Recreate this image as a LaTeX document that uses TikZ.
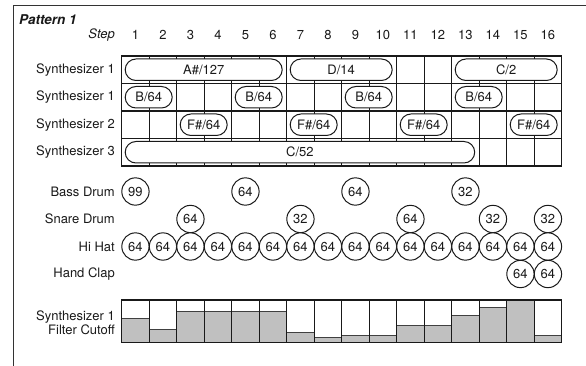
\documentclass[tikz,border=0pt]{standalone}
\usepackage{fontspec}
\setmainfont{TeX Gyre Heros}
\usetikzlibrary{shapes.misc}
\definecolor{ink}{RGB}{25,25,25}
\definecolor{barfill}{RGB}{192,192,192}
\begin{document}
\begin{tikzpicture}[x=1pt,y=-1pt,
  every node/.style={font=\fontsize{13}{14.5}\selectfont, text=ink},
  lbl/.style={anchor=east, inner sep=0pt},
  stepnum/.style={inner sep=0pt},
  gridline/.style={draw=ink, line width=1.1pt},
  notebar/.style={rounded rectangle, draw=ink, fill=white, line width=1pt, minimum height=21.5pt, inner sep=0pt},
  drum/.style={circle, draw=ink, fill=white, line width=1pt, minimum size=27.3pt, inner sep=0pt},
  frameline/.style={draw=black!80, line width=0.9pt}
]
\useasboundingbox (0,0) rectangle (586,366);
\def\GX{121.7}\def\GW{27.5}\def\GY{56}
\newcommand{\colc}[1]{\GX+(#1-0.5)*\GW}
% frame
\coordinate (fbl) at (13.3,370);
\coordinate (ftl) at (13.3,5.7);
\coordinate (ftr) at (590,5.7);
\draw[frameline] (fbl) -- (ftl) -- (ftr);
% titles
\node[anchor=west, inner sep=0pt, font=\fontsize{13.5}{15}\selectfont\bfseries\itshape] (title) at (19,20) {Pattern 1};
\node[lbl, font=\fontsize{13}{14.5}\selectfont\itshape] (steplbl) at (115,35) {Step};
\foreach \i in {1,...,16} {
  \node[stepnum] (s\i) at ({\colc{\i}},35) {\i};
}
% row labels
\node[lbl] (l1) at (115,69.75) {Synthesizer 1};
\node[lbl] (l2) at (115,97.25) {Synthesizer 1};
\node[lbl] (l3) at (115,124.75) {Synthesizer 2};
\node[lbl] (l4) at (115,152.25) {Synthesizer 3};
% grid
\draw[gridline] (\GX,\GY) rectangle ({\GX+16*\GW},{\GY+4*\GW});
\foreach \r in {1,2,3} { \draw[gridline] (\GX,{\GY+\r*\GW}) -- ({\GX+16*\GW},{\GY+\r*\GW}); }
\foreach \c in {1,...,15} { \draw[gridline] ({\GX+\c*\GW},\GY) -- ({\GX+\c*\GW},{\GY+4*\GW}); }
% note bars
\newcommand{\notebarat}[5]{%
  \node[notebar, minimum width={(#4-#3+1)*\GW-8}] (#1) at ({\GX+(#3-1)*\GW+(#4-#3+1)*\GW/2-0.5},{\GY+(#2-0.5)*\GW}) {#5};}
\notebarat{ra}{1}{1}{6}{A\#/127}
\notebarat{rb}{1}{7}{10}{D/14}
\notebarat{rc}{1}{13}{16}{C/2}
\notebarat{ba}{2}{1}{2}{B/64}
\notebarat{bb}{2}{5}{6}{B/64}
\notebarat{bc}{2}{9}{10}{B/64}
\notebarat{bd}{2}{13}{14}{B/64}
\notebarat{fa}{3}{3}{4}{F\#/64}
\notebarat{fb}{3}{7}{8}{F\#/64}
\notebarat{fc}{3}{11}{12}{F\#/64}
\notebarat{fd}{3}{15}{16}{F\#/64}
\notebarat{ca}{4}{1}{13}{C/52}
% drum labels
\node[lbl] (lbd) at (115,191.5) {Bass Drum};
\node[lbl] (lsd) at (115,219) {Snare Drum};
\node[lbl] (lhh) at (115,246.5) {Hi Hat};
\node[lbl] (lhc) at (115,274) {Hand Clap};
% drums
\foreach \i/\v in {1/99,5/64,9/64,13/32} { \node[drum] (bd\i) at ({\colc{\i}},191.5) {\v}; }
\foreach \i/\v in {3/64,7/32,11/64,14/32,16/32} { \node[drum] (sd\i) at ({\colc{\i}},219) {\v}; }
\foreach \i in {1,...,16} { \node[drum] (hh\i) at ({\colc{\i}},246.5) {64}; }
\foreach \i in {15,16} { \node[drum] (hc\i) at ({\colc{\i}},274) {64}; }
% filter cutoff
\node[lbl, align=right, font=\fontsize{13}{14.5}\selectfont] (lfc) at (115,323) {Synthesizer 1\\Filter Cutoff};
\def\FT{300}\def\FB{342.7}
\foreach \i/\h in {1/24.4,2/13.4,3/31,4/31,5/31,6/31,7/10,8/5,9/7.7,10/7.7,11/17.4,12/17.4,13/27.4,14/35,15/42.7,16/7.7} {
  \fill[barfill] ({\GX+(\i-1)*\GW},{\FB-\h}) rectangle ({\GX+\i*\GW},\FB);
  \draw[draw=black!75, line width=0.9pt] ({\GX+(\i-1)*\GW},{\FB-\h}) -- ({\GX+\i*\GW},{\FB-\h});
}
\foreach \i in {1,...,16} {
  \draw[gridline, line width=1.3pt] ({\GX+(\i-1)*\GW},\FT) rectangle ({\GX+\i*\GW},\FB);
}
\end{tikzpicture}
\end{document}
